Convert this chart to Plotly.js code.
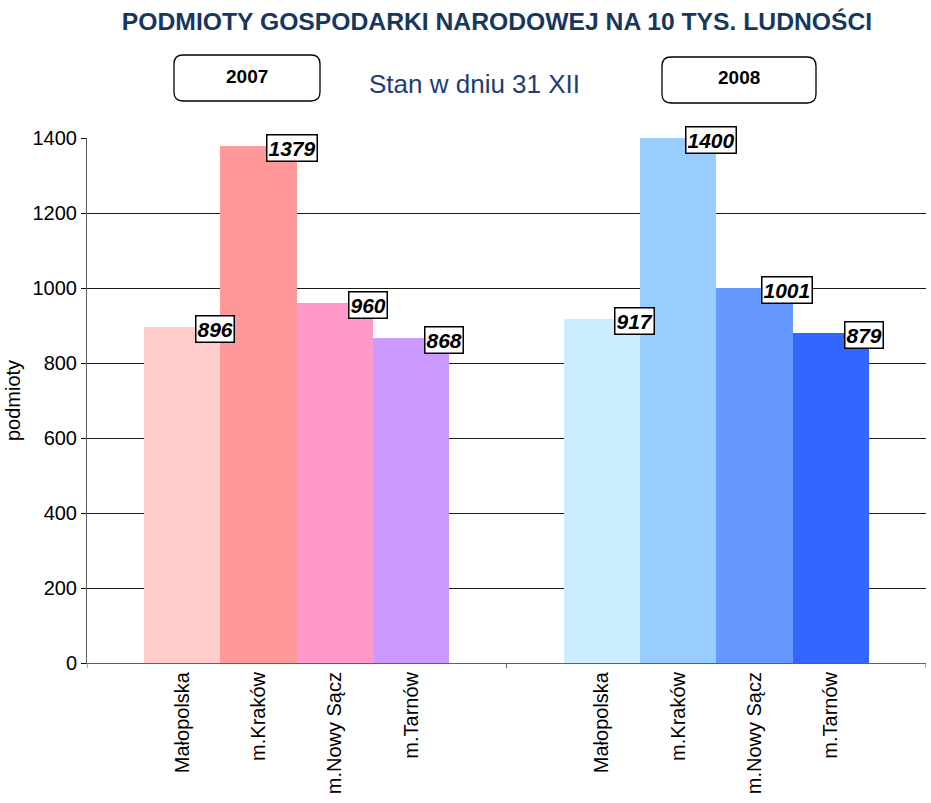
<!DOCTYPE html>
<html>
<head>
<meta charset="utf-8">
<script src="https://cdn.plot.ly/plotly-3.0.1.min.js"></script>
<style>html,body{margin:0;padding:0;background:#fff;}#chart{width:931px;height:803px;}</style>
</head>
<body>
<div id="chart"></div>
<script>
// ---- data ----
const regions = ["Małopolska", "m.Kraków", "m.Nowy Sącz", "m.Tarnów"];
const years = ["2007", "2008"];
const values2007 = [896, 1379, 960, 868];
const values2008 = [917, 1400, 1001, 879];
const colors2007 = ["#FFCCCC", "#FF9999", "#FF99CC", "#CC99FF"];
const colors2008 = ["#CCECFF", "#99CCFF", "#6699FF", "#3366FF"];

// ---- layout helpers ----
const W = 931, H = 803;
const M = {l: 87, r: 5, t: 138, b: 140};
const PW = W - M.l - M.r, PH = H - M.t - M.b;
const px = x => (x - M.l) / PW;
const py = y => (H - M.b - y) / PH;
const FONT = "Liberation Sans, Arial, sans-serif";

const groupStart = [1, 6.5];
const xPos = g => regions.map((_, i) => groupStart[g] + i);
const allX = xPos(0).concat(xPos(1));

const traces = [
  {type: "bar", x: xPos(0), y: values2007, width: 1, marker: {color: colors2007}, name: years[0], hoverinfo: "y"},
  {type: "bar", x: xPos(1), y: values2008, width: 1, marker: {color: colors2008}, name: years[1], hoverinfo: "y"}
];

const annotations = [];
[values2007, values2008].forEach((vals, g) => {
  vals.forEach((v, i) => {
    annotations.push({
      x: xPos(g)[i], y: v, xref: "x", yref: "y",
      text: "<b><i>" + v + "</i></b>",
      showarrow: false, xanchor: "center", yanchor: "middle",
      xshift: 33, yshift: -2,
      bgcolor: "#ffffff", bordercolor: "#000000", borderwidth: 1.5, borderpad: 1,
      font: {family: FONT, size: 21, color: "#000"}
    });
  });
});

function roundRect(x0, y0, x1, y1, r) {
  const a = px(x0), b = px(x1), c = py(y0), d = py(y1);
  const rx = r / PW, ry = r / PH;
  return `M ${a + rx},${c} L ${b - rx},${c} Q ${b},${c} ${b},${c - ry} L ${b},${d + ry} Q ${b},${d} ${b - rx},${d} L ${a + rx},${d} Q ${a},${d} ${a},${d + ry} L ${a},${c - ry} Q ${a},${c} ${a + rx},${c} Z`;
}

const yearBoxes = [[174, 55, 320, 101], [662, 57, 816, 103]];
const shapes = yearBoxes.map(bx => ({
  type: "path", xref: "paper", yref: "paper",
  path: roundRect(bx[0], bx[1], bx[2], bx[3], 9),
  line: {color: "#000", width: 1.3}, fillcolor: "rgba(0,0,0,0)"
}));
yearBoxes.forEach((bx, k) => {
  annotations.push({
    xref: "paper", yref: "paper", x: px((bx[0] + bx[2]) / 2), y: py((bx[1] + bx[3]) / 2 - 2),
    text: "<b>" + years[k] + "</b>", showarrow: false, xanchor: "center", yanchor: "middle",
    font: {family: FONT, size: 19, color: "#000"}
  });
});
annotations.push({
  xref: "paper", yref: "paper", x: px(474), y: py(84),
  text: "Stan w dniu 31 XII", showarrow: false, xanchor: "center", yanchor: "middle",
  font: {family: FONT, size: 26, color: "#1F3C74"}
});

// group separator ticks on x axis
[-0.25, 5.25, 10.75].forEach(t => {
  shapes.push({type: "line", xref: "x", yref: "paper", x0: t, x1: t, y0: 0, y1: -5 / PH,
    line: {color: "#606060", width: 1}});
});

const layout = {
  width: W, height: H,
  margin: M,
  paper_bgcolor: "#fff", plot_bgcolor: "#fff",
  showlegend: false,
  font: {family: FONT, color: "#000"},
  title: {
    text: "<b>PODMIOTY GOSPODARKI NARODOWEJ NA 10 TYS. LUDNOŚCI</b>",
    x: 497 / W, xref: "container", xanchor: "center", y: 1 - 21 / H, yanchor: "middle", yref: "container",
    font: {family: FONT, size: 24.7, color: "#17375E"}
  },
  xaxis: {
    range: [-0.25, 10.75], tickvals: allX, ticktext: regions.concat(regions),
    tickangle: -90, ticks: "", showgrid: false, zeroline: false,
    showline: true, linecolor: "#606060", linewidth: 1,
    tickfont: {size: 20, color: "#000"}, fixedrange: true
  },
  yaxis: {
    range: [0, 1400], tickvals: [0, 200, 400, 600, 800, 1000, 1200, 1400],
    ticks: "outside", ticklen: 5, tickcolor: "#000",
    showline: true, linecolor: "#606060", linewidth: 1,
    showgrid: true, gridcolor: "#1a1a1a", gridwidth: 1, zeroline: false,
    tickfont: {size: 20, color: "#000"},
    title: {text: "podmioty", font: {size: 20, color: "#000"}, standoff: 6},
    fixedrange: true
  },
  bargap: 0,
  shapes: shapes,
  annotations: annotations
};

Plotly.newPlot("chart", traces, layout, {displayModeBar: false, staticPlot: true});
</script>
</body>
</html>
